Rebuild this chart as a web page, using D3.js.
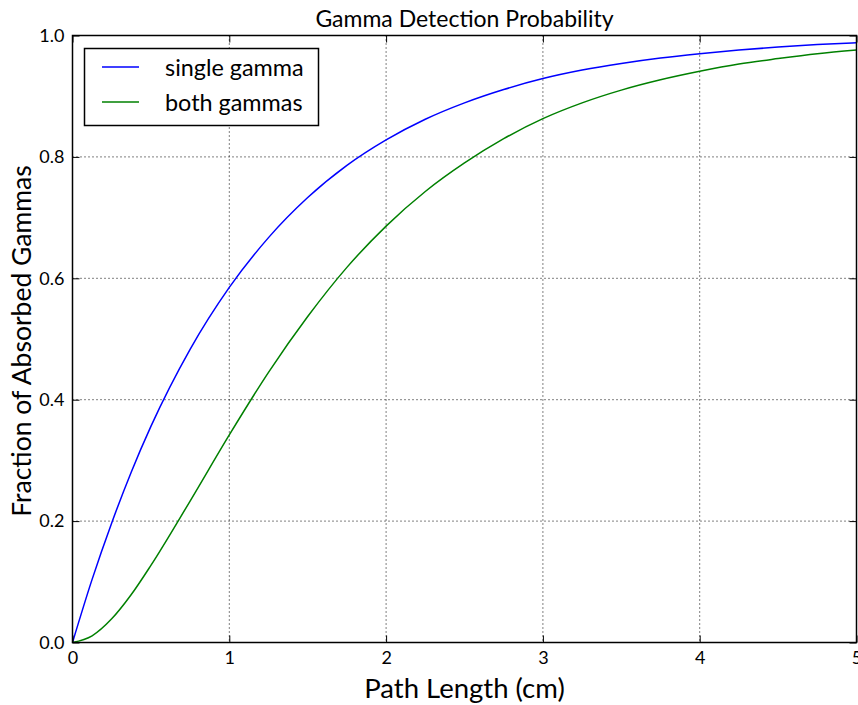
<!DOCTYPE html>
<html>
<head>
<meta charset="utf-8">
<script src="https://cdn.jsdelivr.net/npm/d3@7"></script>
<style>
  html, body { margin: 0; padding: 0; background: #fff; }
  svg { display: block; }
  text { font-family: Lato, "DejaVu Sans", sans-serif; fill: #000; }
</style>
</head>
<body>
<svg id="chart" width="858" height="705"></svg>
<script>
// Path length samples (cm)
const pathLength = [0, 0.125, 0.25, 0.375, 0.5, 0.75, 1, 1.25, 1.5, 1.75, 2, 2.25, 2.5, 2.75, 3,
                    3.25, 3.5, 3.75, 4, 4.25, 4.5, 4.75, 5];
// Fraction absorbed, one gamma
const singleGamma = [0, 0.104, 0.197, 0.281, 0.356, 0.483, 0.585, 0.667, 0.733, 0.786, 0.828, 0.862,
                     0.889, 0.911, 0.929, 0.943, 0.954, 0.963, 0.970, 0.976, 0.981, 0.985, 0.988];
// Fraction absorbed, both gammas
const bothGammas = [0, 0.011, 0.039, 0.079, 0.127, 0.233, 0.342, 0.445, 0.537, 0.618, 0.686, 0.743,
                    0.790, 0.830, 0.863, 0.889, 0.910, 0.927, 0.941, 0.953, 0.962, 0.970, 0.976];
const xTicks = [0, 1, 2, 3, 4, 5];
const yTicks = [0, 0.2, 0.4, 0.6, 0.8, 1.0];
const seriesNames = ["single gamma", "both gammas"];
const seriesColors = ["#0000ff", "#008000"];

const svg = d3.select("#chart");
const mLeft = 72.5, mRight = 856.5, mTop = 35.5, mBottom = 642.5;

const x = d3.scaleLinear().domain([0, 5]).range([mLeft, mRight]);
const y = d3.scaleLinear().domain([0, 1]).range([mBottom, mTop]);

// Dotted grid
const grid = svg.append("g");
grid.selectAll("line.gx").data(xTicks.slice(1, -1)).join("line")
  .attr("x1", d => x(d)).attr("x2", d => x(d))
  .attr("y1", mTop).attr("y2", mBottom)
  .attr("stroke", "#000").attr("stroke-width", 1).attr("stroke-dasharray", "1,3");
grid.selectAll("line.gy").data(yTicks.slice(1, -1)).join("line")
  .attr("y1", d => y(d)).attr("y2", d => y(d))
  .attr("x1", mLeft).attr("x2", mRight)
  .attr("stroke", "#000").attr("stroke-width", 1).attr("stroke-dasharray", "1,3");

// Curves
const line = d3.line().x(d => x(d[0])).y(d => y(d[1])).curve(d3.curveMonotoneX);
[singleGamma, bothGammas].forEach((vals, i) => {
  svg.append("path")
    .datum(pathLength.map((p, j) => [p, vals[j]]))
    .attr("fill", "none")
    .attr("stroke", seriesColors[i])
    .attr("stroke-width", 1.5)
    .attr("d", line);
});

// Axes with inward ticks on all four sides
const tickLen = 7;
const fmtY = d3.format(".1f");
const axB = svg.append("g").attr("transform", `translate(0,${mBottom})`)
  .call(d3.axisBottom(x).tickValues(xTicks).tickSize(-tickLen).tickPadding(8).tickFormat(d3.format("d")));
const axT = svg.append("g").attr("transform", `translate(0,${mTop})`)
  .call(d3.axisTop(x).tickValues(xTicks).tickSize(-tickLen).tickFormat(""));
const axL = svg.append("g").attr("transform", `translate(${mLeft},0)`)
  .call(d3.axisLeft(y).tickValues(yTicks).tickSize(-tickLen).tickPadding(8).tickFormat(fmtY));
const axR = svg.append("g").attr("transform", `translate(${mRight},0)`)
  .call(d3.axisRight(y).tickValues(yTicks).tickSize(-tickLen).tickFormat(""));
[axB, axT, axL, axR].forEach(a => {
  a.select(".domain").remove();
  a.selectAll(".tick line").attr("stroke", "#000").attr("stroke-width", 1);
  a.selectAll(".tick text").style("font-size", "18px").attr("fill", "#000");
});
axB.selectAll(".tick text").attr("dy", "0.75em");

// Frame
svg.append("rect")
  .attr("x", mLeft).attr("y", mTop)
  .attr("width", mRight - mLeft).attr("height", mBottom - mTop)
  .attr("fill", "none").attr("stroke", "#000").attr("stroke-width", 1.5);

// Titles
svg.append("text").attr("x", (mLeft + mRight) / 2).attr("y", 27)
  .attr("text-anchor", "middle").style("font-size", "23px")
  .text("Gamma Detection Probability");
svg.append("text").attr("x", (mLeft + mRight) / 2).attr("y", 698)
  .attr("text-anchor", "middle").style("font-size", "27.5px")
  .text("Path Length (cm)");
svg.append("text")
  .attr("transform", `translate(31,341) rotate(-90)`)
  .attr("text-anchor", "middle").style("font-size", "26.5px")
  .text("Fraction of Absorbed Gammas");

// Legend
const lg = svg.append("g");
lg.append("rect").attr("x", 84.5).attr("y", 48.5).attr("width", 234).attr("height", 77)
  .attr("fill", "#fff").attr("stroke", "#000").attr("stroke-width", 1.5);
seriesNames.forEach((name, i) => {
  const yy = 67 + i * 35;
  lg.append("line").attr("x1", 102).attr("x2", 139).attr("y1", yy).attr("y2", yy)
    .attr("stroke", seriesColors[i]).attr("stroke-width", 1.5);
  lg.append("text").attr("x", 165).attr("y", yy + 9).style("font-size", "23.4px").text(name);
});
</script>
</body>
</html>
